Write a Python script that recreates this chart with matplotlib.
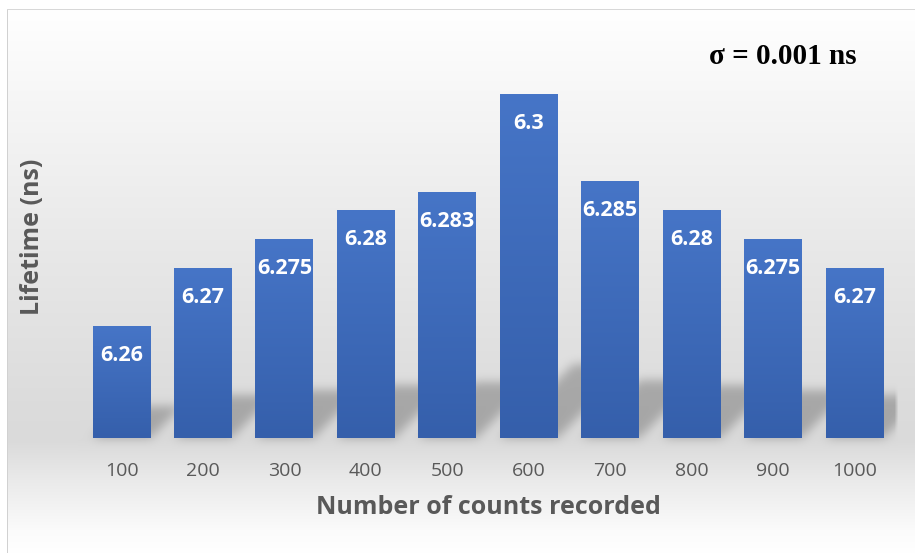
import numpy as np
import matplotlib
matplotlib.use("Agg")
import matplotlib.pyplot as plt
from matplotlib.path import Path

counts = ["100", "200", "300", "400", "500", "600", "700", "800", "900", "1000"]
lifetimes = [6.26, 6.27, 6.275, 6.28, 6.283, 6.3, 6.285, 6.28, 6.275, 6.27]

y_min, y_max = 6.2407, 6.3128

W, H = 915, 553
fig = plt.figure(figsize=(W / 100, H / 100), dpi=100)
plt.rcParams['font.family'] = ['Open Sans', 'DejaVu Sans']

ax = fig.add_axes([80.8 / W, 115 / H, 814.4 / W, 418 / H])
ax.set_facecolor('none')
ax.set_xlim(-0.5, len(counts) - 0.5)
ax.set_ylim(y_min, y_max)

x = np.arange(len(counts))
bar_w = 0.71
bars = ax.bar(x, lifetimes, width=bar_w, color='#3f6bbb', zorder=2)

# vertical shading inside each bar
shade = np.linspace(0, 1, 256).reshape(-1, 1)
top_c = np.array([0x46, 0x75, 0xc7]) / 255
bot_c = np.array([0x35, 0x5f, 0xab]) / 255
grad = top_c * (1 - shade[..., None]) + bot_c * shade[..., None]
for b in bars:
    x0, w, h = b.get_x(), b.get_width(), b.get_height()
    ax.imshow(grad, extent=[x0, x0 + w, y_min, h], aspect='auto',
              origin='upper', zorder=3, interpolation='bilinear')
ax.set_xlim(-0.5, len(counts) - 0.5)
ax.set_ylim(y_min, y_max)

for i, v in enumerate(lifetimes):
    ax.annotate(str(v), (i, v), xytext=(0, -21), textcoords='offset points',
                ha='center', va='center', color='white', fontsize=15.5,
                fontweight='bold', zorder=5)

ax.set_xticks(x)
ax.set_xticklabels(counts, fontsize=14, color='#595959')
ax.tick_params(axis='x', length=0, pad=17)
ax.set_yticks([])
for s in ax.spines.values():
    s.set_visible(False)

ax.set_xlabel('Number of counts recorded', fontsize=18, fontweight='bold',
              color='#595959', labelpad=11)
fig.text(33 / W, 1 - 237 / H, 'Lifetime (ns)', rotation=90, ha='center',
         va='center', fontsize=18, fontweight='bold', color='#595959')

fig.text(783 / W, 1 - 57 / H, 'σ = 0.001 ns', ha='center', va='center',
         fontsize=21, fontweight='bold', color='black',
         family=['Liberation Serif', 'DejaVu Serif'])

# background: grey floor gradient plus soft bar shadows
rows = np.arange(H)
stops_y = [0, 20, 100, 250, 400, 440, 480, 530, 553]
stops_v = [255, 254, 246, 232, 220, 218, 234, 251, 255]
col = np.interp(rows, stops_y, stops_v) / 255
bg = np.repeat(col[:, None], W, axis=1)

yy, xx = np.mgrid[0:H, 0:W]
pts = np.column_stack([xx.ravel() + 0.5, (H - yy.ravel()) - 0.5])
mask = np.zeros(H * W)
for b in bars:
    x0, w, h = b.get_x(), b.get_width(), b.get_height()
    (xl, yb), (xr, yt) = ax.transData.transform([(x0, y_min), (x0 + w, h)])
    hs = 0.18 * (yt - yb) + 12
    poly = Path([(xl, yb), (xr, yb), (xr + hs, yb + hs), (xl + hs, yb + hs), (xl, yb)])
    mask = np.maximum(mask, poly.contains_points(pts))
mask = mask.reshape(H, W)


def blur(a, sigma):
    r = int(3 * sigma)
    k = np.exp(-0.5 * (np.arange(-r, r + 1) / sigma) ** 2)
    k /= k.sum()
    a = np.apply_along_axis(lambda m: np.convolve(m, k, mode='same'), 0, a)
    a = np.apply_along_axis(lambda m: np.convolve(m, k, mode='same'), 1, a)
    return a


mask = blur(mask, 5)
# shadows stop at the right edge of the plot area
mask *= np.clip((898 - xx) / 4, 0, 1)
bg = bg * (1 - 0.24 * mask)

bg[:9, :] = 1.0
bg[:, :7] = 1.0
bg[9:, 7] = 0.82
bg[9, 7:] = 0.85

bg_ax = fig.add_axes([0, 0, 1, 1], zorder=-1)
bg_ax.imshow(np.dstack([bg, bg, bg]), aspect='auto', interpolation='none')
bg_ax.axis('off')

fig.savefig('out.png', dpi=100)
